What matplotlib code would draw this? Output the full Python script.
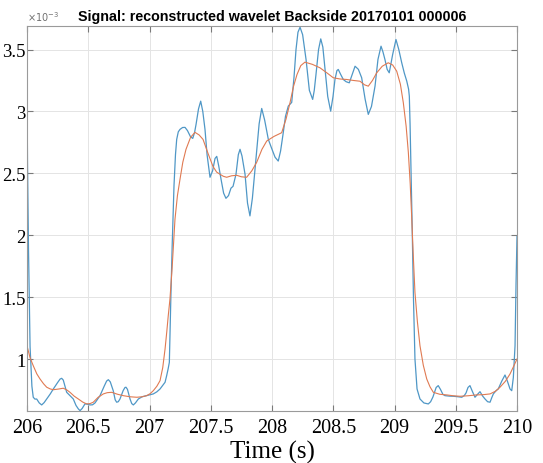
import matplotlib
matplotlib.use("Agg")
import matplotlib.pyplot as plt
from matplotlib.ticker import FuncFormatter

# reconstructed wavelet signal (values in units of 1e-3)
t_signal = [206.000, 206.004, 206.012, 206.025, 206.040, 206.051, 206.065, 206.079, 206.100, 206.120,
            206.140, 206.161, 206.190, 206.215, 206.250, 206.270, 206.283, 206.296, 206.310, 206.324,
            206.351, 206.378, 206.400, 206.419, 206.433, 206.450, 206.473, 206.490, 206.514, 206.535,
            206.555, 206.596, 206.630, 206.650, 206.664, 206.680, 206.704, 206.720, 206.732, 206.745,
            206.759, 206.785, 206.800, 206.808, 206.820, 206.841, 206.855, 206.868, 206.885, 206.909,
            206.940, 206.977, 207.031, 207.060, 207.086, 207.110, 207.127, 207.140, 207.152, 207.162,
            207.167, 207.174, 207.185, 207.200, 207.212, 207.222, 207.235, 207.249, 207.270, 207.290,
            207.310, 207.335, 207.353, 207.368, 207.380, 207.400, 207.418, 207.435, 207.453, 207.470,
            207.494, 207.515, 207.535, 207.549, 207.565, 207.584, 207.605, 207.624, 207.645, 207.665,
            207.682, 207.706, 207.725, 207.739, 207.755, 207.780, 207.800, 207.820, 207.840, 207.869,
            207.895, 207.916, 207.940, 207.970, 208.000, 208.025, 208.051, 208.070, 208.090, 208.110,
            208.133, 208.161, 208.180, 208.196, 208.212, 208.229, 208.250, 208.278, 208.305, 208.332,
            208.345, 208.359, 208.380, 208.398, 208.415, 208.433, 208.455, 208.479, 208.498, 208.514,
            208.530, 208.541, 208.560, 208.582, 208.605, 208.631, 208.655, 208.678, 208.705, 208.732,
            208.760, 208.786, 208.812, 208.841, 208.865, 208.890, 208.906, 208.922, 208.940, 208.957,
            208.985, 209.012, 209.035, 209.059, 209.080, 209.100, 209.115, 209.121, 209.127, 209.132,
            209.143, 209.155, 209.167, 209.184, 209.208, 209.240, 209.276, 209.295, 209.314, 209.340,
            209.357, 209.375, 209.395, 209.412, 209.450, 209.480, 209.520, 209.549, 209.570, 209.584,
            209.600, 209.616, 209.635, 209.657, 209.678, 209.698, 209.720, 209.739, 209.760, 209.780,
            209.795, 209.807, 209.830, 209.847, 209.875, 209.902, 209.922, 209.943, 209.957, 209.970,
            209.984, 209.992, 210.000]
v_signal = [3.23, 2.60, 1.90, 1.10, 0.78, 0.691, 0.676, 0.677, 0.645, 0.629,
            0.648, 0.677, 0.718, 0.758, 0.810, 0.838, 0.844, 0.830, 0.780, 0.731,
            0.704, 0.677, 0.625, 0.597, 0.583, 0.600, 0.637, 0.636, 0.629, 0.630,
            0.645, 0.704, 0.780, 0.822, 0.833, 0.815, 0.744, 0.670, 0.651, 0.655,
            0.677, 0.745, 0.770, 0.772, 0.755, 0.677, 0.640, 0.629, 0.645, 0.677,
            0.695, 0.704, 0.718, 0.735, 0.758, 0.790, 0.812, 0.865, 0.920, 0.973,
            1.20, 1.484, 1.911, 2.40, 2.65, 2.774, 2.835, 2.855, 2.870, 2.871,
            2.845, 2.795, 2.782, 2.830, 2.895, 3.020, 3.083, 3.000, 2.855, 2.650,
            2.468, 2.520, 2.620, 2.637, 2.560, 2.452, 2.340, 2.298, 2.320, 2.380,
            2.395, 2.492, 2.650, 2.694, 2.640, 2.492, 2.260, 2.156, 2.300, 2.613,
            2.900, 3.024, 2.930, 2.774, 2.694, 2.630, 2.599, 2.680, 2.815, 2.960,
            3.043, 3.073, 3.280, 3.500, 3.640, 3.680, 3.620, 3.419, 3.170, 3.097,
            3.170, 3.298, 3.500, 3.586, 3.520, 3.339, 3.120, 3.002, 3.120, 3.258,
            3.330, 3.339, 3.300, 3.258, 3.240, 3.231, 3.300, 3.365, 3.340, 3.272,
            3.100, 2.976, 3.040, 3.204, 3.420, 3.527, 3.480, 3.419, 3.340, 3.312,
            3.460, 3.581, 3.500, 3.393, 3.310, 3.245, 3.180, 3.123, 2.900, 2.669,
            2.129, 1.484, 1.000, 0.758, 0.677, 0.645, 0.637, 0.655, 0.694, 0.770,
            0.785, 0.755, 0.715, 0.704, 0.700, 0.699, 0.695, 0.691, 0.705, 0.726,
            0.770, 0.785, 0.740, 0.691, 0.715, 0.736, 0.700, 0.677, 0.655, 0.651,
            0.690, 0.718, 0.745, 0.758, 0.820, 0.871, 0.820, 0.758, 0.744, 0.850,
            1.107, 1.60, 1.99]

# smoothed envelope
t_smooth = [206.000, 206.025, 206.051, 206.080, 206.106, 206.135, 206.161, 206.190, 206.215, 206.255,
            206.296, 206.325, 206.351, 206.385, 206.419, 206.455, 206.487, 206.515, 206.541, 206.580,
            206.623, 206.655, 206.691, 206.740, 206.786, 206.840, 206.896, 206.940, 206.977, 207.005,
            207.031, 207.060, 207.086, 207.108, 207.127, 207.141, 207.153, 207.167, 207.184, 207.208,
            207.228, 207.249, 207.272, 207.298, 207.335, 207.371, 207.405, 207.437, 207.478, 207.518,
            207.548, 207.576, 207.603, 207.630, 207.670, 207.712, 207.750, 207.793, 207.835, 207.875,
            207.918, 207.957, 208.016, 208.079, 208.115, 208.147, 208.175, 208.204, 208.235, 208.269,
            208.330, 208.392, 208.450, 208.500, 208.555, 208.610, 208.665, 208.718, 208.755, 208.786,
            208.820, 208.855, 208.900, 208.949, 208.985, 209.018, 209.048, 209.072, 209.095, 209.113,
            209.128, 209.140, 209.153, 209.167, 209.187, 209.208, 209.235, 209.263, 209.290, 209.317,
            209.370, 209.426, 209.480, 209.535, 209.600, 209.671, 209.725, 209.780, 209.825, 209.861,
            209.905, 209.943, 209.972, 210.000]
v_smooth = [1.107, 1.010, 0.946, 0.880, 0.839, 0.800, 0.772, 0.758, 0.752, 0.757,
            0.764, 0.750, 0.731, 0.700, 0.677, 0.652, 0.637, 0.640, 0.651, 0.690,
            0.718, 0.728, 0.731, 0.715, 0.704, 0.695, 0.691, 0.695, 0.704, 0.720,
            0.744, 0.780, 0.825, 0.930, 1.081, 1.220, 1.349, 1.484, 1.726, 2.129,
            2.320, 2.452, 2.590, 2.694, 2.790, 2.831, 2.810, 2.774, 2.660, 2.556,
            2.510, 2.492, 2.476, 2.468, 2.480, 2.484, 2.472, 2.468, 2.520, 2.589,
            2.694, 2.761, 2.798, 2.828, 2.940, 3.070, 3.200, 3.298, 3.370, 3.398,
            3.380, 3.352, 3.310, 3.272, 3.262, 3.258, 3.250, 3.244, 3.215, 3.204,
            3.250, 3.312, 3.365, 3.393, 3.375, 3.325, 3.220, 3.070, 2.880, 2.669,
            2.420, 2.156, 1.840, 1.538, 1.300, 1.107, 0.950, 0.839, 0.775, 0.731,
            0.715, 0.710, 0.703, 0.699, 0.703, 0.710, 0.712, 0.718, 0.740, 0.772,
            0.820, 0.879, 0.940, 1.000]

x_ticks = [206, 206.5, 207, 207.5, 208, 208.5, 209, 209.5, 210]
y_ticks = [1, 1.5, 2, 2.5, 3, 3.5]

fig = plt.figure(figsize=(5.43, 4.64), dpi=100)
ax = fig.add_axes([27 / 543, 52 / 464, 490 / 543, 385 / 464])

ax.plot(t_signal, v_signal, color='#4f97c6', lw=0.9)
ax.plot(t_smooth, v_smooth, color='#e07a52', lw=0.8)

ax.set_xlim(206, 210)
ax.set_ylim(0.58, 3.69)
ax.set_xticks(x_ticks)
ax.set_yticks(y_ticks)
fmt = FuncFormatter(lambda v, p: '%g' % v)
ax.xaxis.set_major_formatter(fmt)
ax.yaxis.set_major_formatter(fmt)

ax.grid(True, color='#e4e4e4', lw=0.7)
ax.set_axisbelow(True)
for s in ax.spines.values():
    s.set_color('#9a9a9a')
    s.set_linewidth(0.8)
ax.tick_params(direction='in', length=4, width=0.8, color='#7a7a7a',
               top=True, right=True, labelsize=14.5, pad=5)
ax.tick_params(axis='y', labelsize=13.5, pad=1)
for lab in ax.get_xticklabels() + ax.get_yticklabels():
    lab.set_family('Liberation Serif')

ax.set_xlabel('Time (s)', family='Liberation Serif', fontsize=18, labelpad=2)
ax.set_title('Signal: reconstructed wavelet Backside 20170101 000006',
             fontsize=10.3, fontweight='bold', family='Liberation Sans', pad=4)
ax.text(0.0, 1.008, r'$\times10^{-3}$', transform=ax.transAxes, fontsize=7,
        color='#707070', ha='left', va='bottom')

fig.savefig('out.png', dpi=100)
